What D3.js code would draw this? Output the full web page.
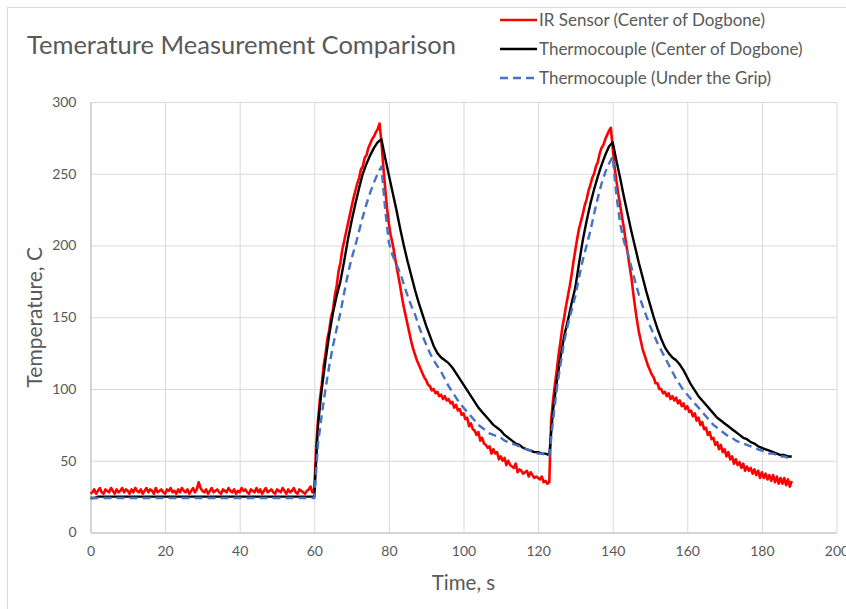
<!DOCTYPE html>
<html>
<head>
<meta charset="utf-8">
<script src="https://cdn.jsdelivr.net/npm/d3@7"></script>
<style>
  body { margin: 0; background: #fff; }
  text { font-family: Lato, "Open Sans", sans-serif; fill: #595959; }
</style>
</head>
<body>
<div id="container"></div>
<script>
/**
 * DATA
 * */
const chartTitle = "Temerature Measurement Comparison";
const seriesNames = ["IR Sensor (Center of Dogbone)", "Thermocouple (Center of Dogbone)", "Thermocouple (Under the Grip)"];
const xTicks = [0, 20, 40, 60, 80, 100, 120, 140, 160, 180, 200];
const yTicks = [0, 50, 100, 150, 200, 250, 300];

// IR sensor, one reading every 0.5 s (one row = 10 s)
const irStep = 0.5;
const irTemp = [
  27,28,30,27,29,31,28,27,30,29,28,31,29,27,30,28,29,31,28,30,
  29,27,30,28,31,29,28,30,27,29,31,28,30,29,27,31,28,29,30,28,
  27,30,29,31,28,29,27,30,28,31,29,28,30,27,29,31,28,30,35,31,
  29,28,30,27,29,31,28,29,30,28,27,30,29,28,31,29,28,30,27,29,
  28,31,29,30,28,27,30,29,28,31,28,30,27,29,31,28,29,30,28,27,
  30,29,28,31,29,27,30,28,29,31,28,27,30,29,28,27,29,30,32,28,
  30,60,78,93,103,116,124,135,141,150,155,165,172,182,188,197,203,209,215,221,
  227,233,238,243,247,253,255,261,263,268,271,274,276,279,281,285,272,255,240,226,
  215,207,201,194,186,179,172,164,157,151,145,139,133,128,124,120,117,114,111,108,
  106,103,102,99,100,97,98,95,96,93,95,92,93,90,91,87,89,85,86,82,
  83,79,80,74,76,72,71,68,70,64,66,62,61,59,60,55,58,55,56,51,
  53,50,52,47,50,47,46,45,48,42,44,43,41,42,43,39,42,40,38,39,
  38,37,39,35,36,34,35,78,92,103,113,124,133,143,150,158,165,172,180,189,
  197,205,212,217,222,228,232,238,242,247,250,255,258,264,268,270,274,277,280,282,
  268,255,245,236,228,220,212,203,195,186,178,167,157,148,140,134,128,124,120,116,
  113,110,108,104,104,100,100,97,98,95,97,93,95,92,94,90,92,88,90,86,
  88,84,85,81,83,78,80,75,77,72,73,68,70,65,66,61,63,58,61,56,
  58,53,56,51,53,48,51,47,49,45,48,43,46,43,45,41,44,40,43,38,
  42,38,41,37,40,36,40,35,39,34,38,34,38,33,37,32,36
];

// Thermocouple at the centre, one reading per second
const tcCenterTemp = [
  24,24,25,25,25,25,25,25,25,25,
  25,25,25,25,25,25,25,25,25,25,
  25,25,25,25,25,25,25,25,25,25,
  25,25,25,25,25,25,25,25,25,25,
  25,25,25,25,25,25,25,25,25,25,
  25,25,25,25,25,25,25,25,25,25,
  25,75,100,120,138,153,165,175,189,204,
  217,229,240,250,257,263,268,272,274,261,
  249,237,225,212,200,189,179,169,160,152,
  144,137,130,125,122,120,118,115,111,107,
  103,99,95,91,87,84,81,78,75,73,
  71,68,66,64,62,61,59,58,57,56,
  56,55,55,54,85,105,122,137,148,160,
  171,188,204,217,229,239,248,256,263,269,
  272,259,247,234,222,210,199,188,178,168,
  159,150,142,135,129,125,122,120,117,113,
  108,103,99,95,92,89,86,83,80,78,
  76,74,72,70,68,66,65,63,62,60,
  59,58,57,56,55,54,54,53,53
];

// Thermocouple under the grip, one reading per second
const tcGripTemp = [
  24,24,24,24,24,24,24,24,24,24,
  24,24,24,24,24,24,24,24,24,24,
  24,24,24,24,24,24,24,24,24,24,
  24,24,24,24,24,24,24,24,24,24,
  24,24,24,24,24,24,24,24,24,24,
  24,24,24,24,24,24,24,24,24,24,
  24,62,82,100,116,130,142,153,167,180,
  191,200,210,220,229,237,244,250,255,225,
  202,193,187,181,173,165,158,152,144,137,
  131,125,120,116,112,107,102,98,94,90,
  87,84,81,78,75,73,71,69,68,67,
  66,64,63,62,61,60,59,58,57,56,
  55,55,54,53,78,100,117,133,145,155,
  165,178,190,200,210,222,233,243,251,257,
  262,235,215,203,195,185,175,166,158,151,
  144,138,132,127,122,117,112,107,103,99,
  96,93,90,87,84,81,78,75,73,71,
  69,67,66,64,63,62,61,60,59,58,
  57,56,55,55,54,53,53,52
];

const seriesColors = ["#ff0000", "#000000", "#4472c4"];

/**
 * LAYOUT
 * */
const width = 846, height = 609;
const plot = { left: 90.5, right: 836.5, top: 102, bottom: 532.5 };

const svg = d3.select("#container").append("svg")
  .attr("width", width)
  .attr("height", height);

// chart frame
svg.append("rect")
  .attr("x", 7.5).attr("y", 7.5)
  .attr("width", 900).attr("height", 700)
  .attr("fill", "none")
  .attr("stroke", "#d9d9d9");

const x = d3.scaleLinear().domain([0, 200]).range([plot.left, plot.right]);
const y = d3.scaleLinear().domain([0, 300]).range([plot.bottom, plot.top]);

// gridlines
svg.append("g")
  .attr("transform", `translate(0,${plot.bottom})`)
  .call(d3.axisBottom(x).tickValues(xTicks).tickSize(-(plot.bottom - plot.top)).tickFormat(""))
  .call(g => g.select(".domain").remove())
  .call(g => g.selectAll("line").attr("stroke", "#d9d9d9"));

svg.append("g")
  .attr("transform", `translate(${plot.left},0)`)
  .call(d3.axisLeft(y).tickValues(yTicks).tickSize(-(plot.right - plot.left)).tickFormat(""))
  .call(g => g.select(".domain").remove())
  .call(g => g.selectAll("line").attr("stroke", "#d9d9d9"));

// axis lines + labels
svg.append("g")
  .attr("transform", `translate(0,${plot.bottom})`)
  .call(d3.axisBottom(x).tickValues(xTicks).tickSize(0).tickPadding(14))
  .call(g => g.select(".domain").attr("stroke", "#bfbfbf"))
  .call(g => g.selectAll("text").attr("font-size", 14).attr("fill", "#595959")
    .style("font-family", "Lato, sans-serif"));

svg.append("g")
  .attr("transform", `translate(${plot.left},0)`)
  .call(d3.axisLeft(y).tickValues(yTicks).tickSize(0).tickPadding(14))
  .call(g => g.select(".domain").attr("stroke", "#bfbfbf"))
  .call(g => g.selectAll("text").attr("font-size", 14).attr("fill", "#595959")
    .style("font-family", "Lato, sans-serif"));

// titles
svg.append("text")
  .attr("x", 27).attr("y", 54)
  .attr("font-size", 25.5)
  .text(chartTitle);

svg.append("text")
  .attr("x", (plot.left + plot.right) / 2).attr("y", 590)
  .attr("text-anchor", "middle")
  .attr("font-size", 20.5)
  .text("Time, s");

svg.append("text")
  .attr("transform", `translate(42,${(plot.top + plot.bottom) / 2}) rotate(-90)`)
  .attr("text-anchor", "middle")
  .attr("font-size", 21)
  .text("Temperature, C");

// series
const series = [
  { values: irTemp, step: irStep },
  { values: tcCenterTemp, step: 1 },
  { values: tcGripTemp, step: 1 }
];

const lineGen = d3.line()
  .x(d => x(d[0]))
  .y(d => y(d[1]));

series.forEach((s, i) => {
  svg.append("path")
    .datum(s.values.map((v, k) => [k * s.step, v]))
    .attr("d", lineGen)
    .attr("fill", "none")
    .attr("stroke", seriesColors[i])
    .attr("stroke-width", i === 0 ? 2.6 : 2.4)
    .attr("stroke-linejoin", "round")
    .attr("stroke-dasharray", i === 2 ? "8,5" : null);
});

// legend
const legend = svg.append("g").attr("transform", "translate(500,20)");
seriesNames.forEach((name, i) => {
  const row = legend.append("g").attr("transform", `translate(0,${i * 29})`);
  row.append("line")
    .attr("x1", 0).attr("x2", 37)
    .attr("y1", 0).attr("y2", 0)
    .attr("stroke", seriesColors[i])
    .attr("stroke-width", 2.6)
    .attr("stroke-dasharray", i === 2 ? "8,5" : null);
  row.append("text")
    .attr("x", 39).attr("y", 0)
    .attr("dy", "0.35em")
    .attr("font-size", 17)
    .text(name);
});
</script>
</body>
</html>
